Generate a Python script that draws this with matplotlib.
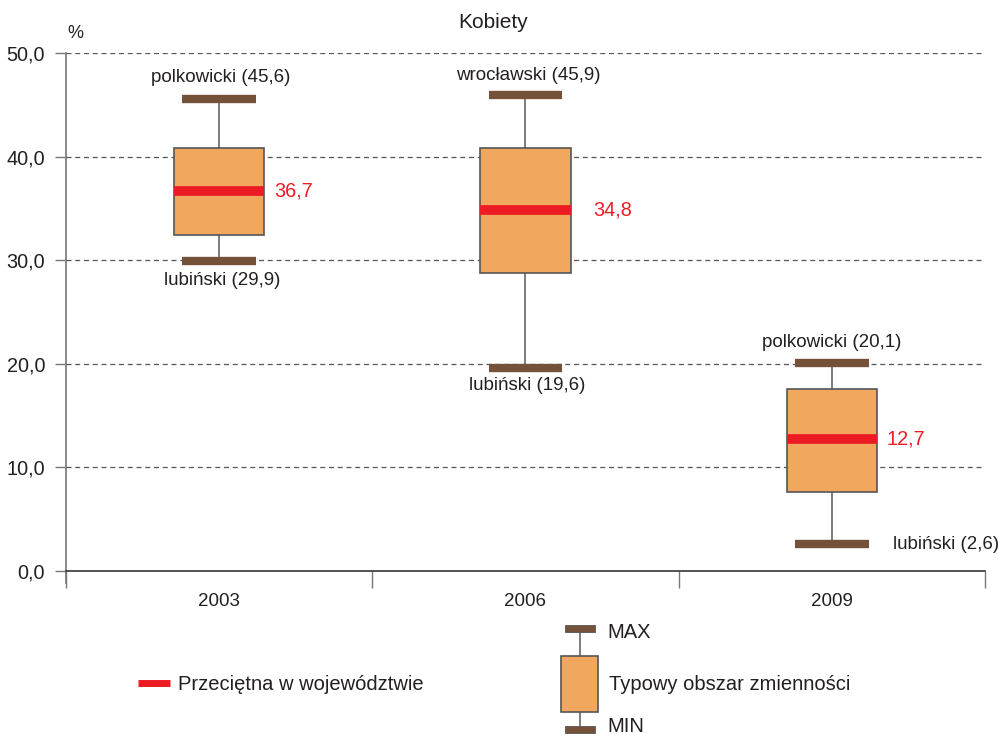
import matplotlib
matplotlib.use("Agg")
import matplotlib.pyplot as plt
from matplotlib.patches import Rectangle

plt.rcParams['font.family'] = ['Liberation Sans', 'DejaVu Sans']

years = ['2003', '2006', '2009']
q_low = [32.4, 28.8, 7.6]
q_high = [40.8, 40.8, 17.6]
mean_vals = [36.7, 34.8, 12.7]
max_vals = [45.6, 45.9, 20.1]
min_vals = [29.9, 19.6, 2.6]
max_names = ['polkowicki', 'wrocławski', 'polkowicki']
min_names = ['lubiński', 'lubiński', 'lubiński']
yticks = [0, 10, 20, 30, 40, 50]

BOX = '#F2A75F'
EDGE = '#555555'
RED = '#ED1C24'
CAP = '#76513A'
TXT = '#231F20'

def fmt(v):
    return f"{v:.1f}".replace('.', ',')

W, H = 1003, 737
fig = plt.figure(figsize=(W/100, H/100), dpi=100)
ax = fig.add_axes([66/W, 1-571/H, (985-66)/W, (571-53)/H])
ax.set_xlim(0, 3)
ax.set_ylim(0, 50)

bw = 0.295
cw = 0.24
for i in range(3):
    c = i + 0.5
    ax.plot([c, c], [q_high[i], max_vals[i]], color='#666666', lw=1.2, zorder=2)
    ax.plot([c, c], [min_vals[i], q_low[i]], color='#666666', lw=1.2, zorder=2)
    ax.add_patch(Rectangle((c-bw/2, q_low[i]), bw, q_high[i]-q_low[i],
                           facecolor=BOX, edgecolor=EDGE, lw=1.2, zorder=3))
    ax.plot([c-bw/2, c+bw/2], [mean_vals[i]]*2, color=RED, lw=7,
            solid_capstyle='butt', zorder=4)
    ax.plot([c-cw/2, c+cw/2], [max_vals[i]]*2, color=CAP, lw=6,
            solid_capstyle='butt', zorder=4)
    ax.plot([c-cw/2, c+cw/2], [min_vals[i]]*2, color=CAP, lw=6,
            solid_capstyle='butt', zorder=4)

fs = 13.5
# max labels
ax.text(0.505, 45.6+1.2, f"{max_names[0]} ({fmt(max_vals[0])})", ha='center', va='bottom', fontsize=fs, color=TXT)
ax.text(1.51, 45.9+1.1, f"{max_names[1]} ({fmt(max_vals[1])})", ha='center', va='bottom', fontsize=fs, color=TXT)
ax.text(2.50, 20.1+1.1, f"{max_names[2]} ({fmt(max_vals[2])})", ha='center', va='bottom', fontsize=fs, color=TXT)
# min labels
ax.text(0.51, 29.9-1.0, f"{min_names[0]} ({fmt(min_vals[0])})", ha='center', va='top', fontsize=fs, color=TXT)
ax.text(1.505, 19.6-0.9, f"{min_names[1]} ({fmt(min_vals[1])})", ha='center', va='top', fontsize=fs, color=TXT)
ax.text(2.70, 2.6, f"{min_names[2]} ({fmt(min_vals[2])})", ha='left', va='center', fontsize=fs, color=TXT)
# mean labels
ax.text(0.68, 36.7, fmt(mean_vals[0]), ha='left', va='center', fontsize=14.3, color=RED)
ax.text(1.72, 34.8, fmt(mean_vals[1]), ha='left', va='center', fontsize=14.3, color=RED)
ax.text(2.68, 12.7, fmt(mean_vals[2]), ha='left', va='center', fontsize=14.3, color=RED)

ax.set_yticks(yticks)
ax.set_yticklabels([fmt(v) for v in yticks], fontsize=14.3, color=TXT)
for y in yticks[1:]:
    ax.axhline(y, color='#555555', lw=0.9, ls=(0, (4, 3)), zorder=1)

ax.set_xticks([0, 1, 2, 3])
ax.set_xticklabels([])
for i, yr in enumerate(years):
    ax.text(i+0.5, -2.1, yr, ha='center', va='top', fontsize=13.5, color=TXT)
ax.tick_params(axis='x', direction='out', length=12, color='#777777', width=1)
ax.tick_params(axis='y', direction='out', length=8, color='#777777', width=1, pad=7)
for s in ['top', 'right']:
    ax.spines[s].set_visible(False)
ax.spines['left'].set_color('#777777')
ax.spines['bottom'].set_color('#333333')
ax.spines['left'].set_linewidth(1.2)
ax.spines['bottom'].set_linewidth(1.2)
ax.spines['left'].set_bounds(-1.15, 50)
ax.spines['left'].set_clip_on(False)

fig.text(493/W, 1-22/H, 'Kobiety', ha='center', va='center', fontsize=15, color=TXT)
fig.text(75/W, 1-33/H, '%', ha='center', va='center', fontsize=13, color=TXT)

# legend axes in pixel coordinates
lg = fig.add_axes([0, 0, 1, 1], zorder=-1)
lg.set_xlim(0, W)
lg.set_ylim(H, 0)
lg.axis('off')
lg.plot([138, 170], [683, 683], color=RED, lw=5, solid_capstyle='butt')
lg.text(178, 684, 'Przeciętna w województwie', ha='left', va='center', fontsize=14.5, color=TXT)
lg.plot([580, 580], [628, 729], color='#666666', lw=1.2)
lg.add_patch(Rectangle((561, 656), 37, 56, facecolor=BOX, edgecolor=EDGE, lw=1.2, zorder=3))
lg.add_patch(Rectangle((565, 625), 30, 7, facecolor=CAP, edgecolor='#555555', lw=0.6, zorder=3))
lg.add_patch(Rectangle((565, 726), 30, 7, facecolor=CAP, edgecolor='#555555', lw=0.6, zorder=3))
lg.text(607, 633, 'MAX', ha='left', va='center', fontsize=14.5, color=TXT)
lg.text(609, 685, 'Typowy obszar zmienności', ha='left', va='center', fontsize=14.5, color=TXT)
lg.text(607, 727, 'MIN', ha='left', va='center', fontsize=14.5, color=TXT)

fig.savefig('out.png', dpi=100)
